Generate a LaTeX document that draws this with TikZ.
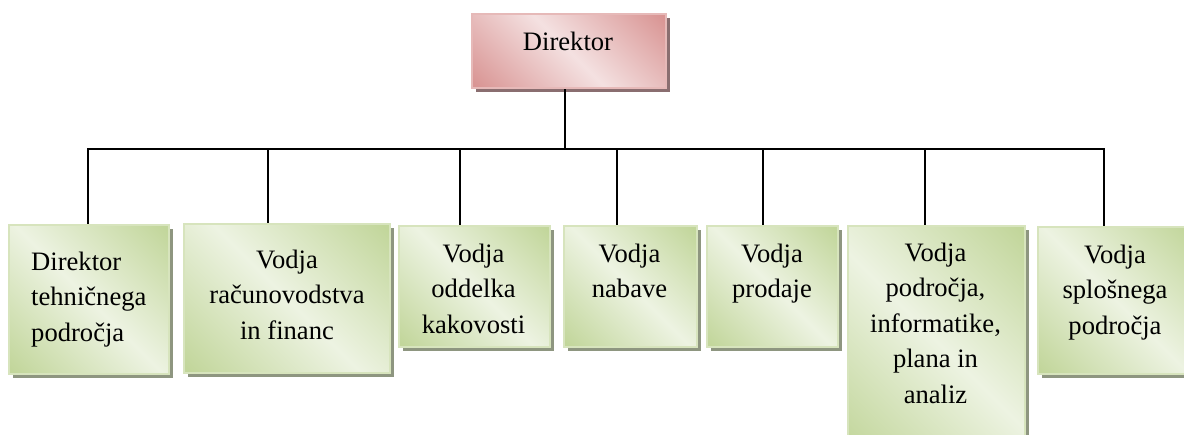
\documentclass[tikz,border=0pt]{standalone}
\usepackage{fontspec}
\setmainfont{Liberation Serif}
\usetikzlibrary{shadows}

\definecolor{pinkdk}{HTML}{D99594}
\definecolor{pinklt}{HTML}{F4E1E1}
\definecolor{pinkedge}{HTML}{E6B9B8}
\definecolor{pinkshadow}{HTML}{8A6E70}
\definecolor{greendk}{HTML}{C2D69B}
\definecolor{greenlt}{HTML}{EDF3E2}
\definecolor{greenedge}{HTML}{D7E4BD}
\definecolor{greenshadow}{HTML}{8E9680}

% diagonal band: dark corners, light middle
\pgfdeclarehorizontalshading{pinkband}{100bp}{color(0bp)=(pinkdk); color(16bp)=(pinkdk); color(50bp)=(pinklt); color(84bp)=(pinkdk); color(100bp)=(pinkdk)}
\pgfdeclarehorizontalshading{greenband}{100bp}{color(0bp)=(greendk); color(16bp)=(greendk); color(50bp)=(greenlt); color(84bp)=(greendk); color(100bp)=(greendk)}

\begin{document}
\begin{tikzpicture}[x=1pt,y=-1pt,
  box/.style={rectangle, inner sep=0pt, line width=2pt, anchor=north west, shading angle=45},
  headbox/.style={box, draw=pinkedge, shading=pinkband,
    general shadow={fill=pinkshadow, shadow xshift=4pt, shadow yshift=-4pt}},
  unitbox/.style={box, draw=greenedge, shading=greenband,
    general shadow={fill=greenshadow, shadow xshift=4pt, shadow yshift=-4pt}},
  txt/.style={inner sep=0pt, font=\fontsize{26.6}{35.5}\selectfont, align=center, anchor=north},
  link/.style={line width=2pt, black}]

\useasboundingbox (0,0) rectangle (1184,434);

% head of the organisation
\node[headbox, minimum width=194pt, minimum height=74pt] (dir) at (471,13) {};
\node[txt, anchor=base] (dirtxt) at (568,50) {Direktor};

% departments
\node[unitbox, minimum width=160pt, minimum height=149pt] (b1) at (8,224) {};
\node[unitbox, minimum width=206pt, minimum height=149pt] (b2) at (183,223) {};
\node[unitbox, minimum width=151pt, minimum height=121pt] (b3) at (398,225) {};
\node[unitbox, minimum width=133pt, minimum height=121pt] (b4) at (563,225) {};
\node[unitbox, minimum width=131pt, minimum height=121pt] (b5) at (706,225) {};
\node[unitbox, minimum width=177pt, minimum height=230pt] (b6) at (847,225) {};
\node[unitbox, minimum width=156pt, minimum height=147pt] (b7) at (1037,226) {};

% first baseline sits one strut height below each north point
\node[txt, anchor=north west, align=left] (t1) at (31,245) {\strut Direktor\\tehničnega\\področja};
\node[txt] (t2) at (287,243) {\strut Vodja\\računovodstva\\in financ};
\node[txt] (t3) at (473.5,237) {\strut Vodja\\oddelka\\kakovosti};
\node[txt] (t4) at (629.5,237) {\strut Vodja\\nabave};
\node[txt] (t5) at (772,237) {\strut Vodja\\prodaje};
\node[txt] (t6) at (935.5,236) {\strut Vodja\\področja,\\informatike,\\plana in\\analiz};
\node[txt] (t7) at (1115,238) {\strut Vodja\\splošnega\\področja};

% connector tree
\coordinate (hub) at (565,148.5);
\coordinate (barL) at (87,148.5);
\coordinate (barR) at (1105,148.5);
\coordinate (c1) at (88,148.5);
\coordinate (c2) at (268,148.5);
\coordinate (c3) at (460,148.5);
\coordinate (c4) at (617,148.5);
\coordinate (c5) at (763,148.5);
\coordinate (c6) at (925,148.5);
\coordinate (c7) at (1104,148.5);

\draw[link] (dir.south -| hub) -- (hub);
\draw[link] (barL) -- (barR);
\foreach \i in {1,...,7}{
  \draw[link] (c\i) -- (b\i.north -| c\i);
}
\end{tikzpicture}
\end{document}
